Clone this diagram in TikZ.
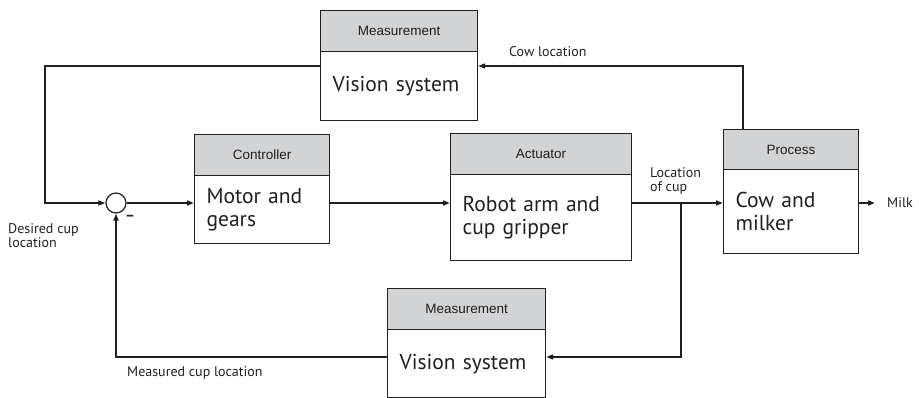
\documentclass[tikz,border=0pt]{standalone}
\usepackage{fontspec}
\setmainfont{PT Sans}
\newfontfamily\hdrfont{Liberation Sans}
\usetikzlibrary{arrows.meta,calc}
\definecolor{ink}{HTML}{231F20}
\definecolor{hdr}{HTML}{D1D3D4}
\begin{document}
\begin{tikzpicture}[x=1pt,y=-1pt,
  hdrbox/.style={draw=ink,line width=1.2,fill=hdr,anchor=north west,inner sep=0,
     font=\hdrfont\fontsize{13.5}{15}\selectfont,text=ink},
  bodybox/.style={draw=ink,line width=1.2,fill=white,anchor=north west,inner xsep=12,inner ysep=0,
     align=left,font=\fontsize{21.5}{22.5}\selectfont,text=ink},
  lbl/.style={font=\fontsize{14}{14.5}\selectfont,text=ink,inner sep=0,align=left},
  arr/.style={draw=ink,line width=1.7,-{Triangle[length=7,width=5]}},
  ln/.style={draw=ink,line width=1.7}]
\useasboundingbox (0,0) rectangle (919,398);
% coordinates for signal levels
\coordinate (yTop) at (0,66);
\coordinate (ySig) at (0,203);
\coordinate (yBot) at (0,357);
% top measurement
\node[hdrbox,minimum width=157,minimum height=41] (mth) at (320,10) {Measurement};
\node[bodybox,minimum width=157,minimum height=69,text width=133] (mt) at (320,51) {Vision system};
% controller
\node[hdrbox,minimum width=135,minimum height=41] (cth) at (194,134) {Controller};
\node[bodybox,minimum width=135,minimum height=68,text width=111] (ct) at (194,175) {Motor and\\gears};
% actuator
\node[hdrbox,minimum width=181,minimum height=41] (ach) at (450,133) {Actuator};
\node[bodybox,minimum width=181,minimum height=86,text width=157] (ac) at (450,174) {Robot arm and\\cup gripper\\[8pt]};
% process
\node[hdrbox,minimum width=135,minimum height=40] (prh) at (723,129) {Process};
\node[bodybox,minimum width=135,minimum height=84,text width=111] (pr) at (723,169) {Cow and\\milker};
% bottom measurement
\node[hdrbox,minimum width=158,minimum height=41] (mbh) at (387,288) {Measurement};
\node[bodybox,minimum width=158,minimum height=68,text width=134] (mb) at (387,329) {Vision system};
% summing junction
\node[circle,draw=ink,line width=1.2,minimum size=20,inner sep=0] (sum) at (116,203) {};
\node[font=\bfseries\fontsize{15}{15}\selectfont,text=ink,inner sep=0] (minus) at (130,218) {–};
% labels
\node[lbl,anchor=west] (desired) at (8,235.5) {Desired cup\\location};
\node[lbl,anchor=west] (measured) at (127,373) {Measured cup location};
\node[lbl,anchor=west] (cowloc) at (509,52) {Cow location};
\node[lbl,anchor=west] (loccup) at (650,181) {Location\\of cup};
\node[lbl,anchor=west] (milk) at (887,203) {Milk};
% connectors
\coordinate (cL) at (45,203);
\coordinate (br) at (681,203);
\draw[arr] (mt.west|-yTop) -| (cL) -- (sum.west);
\draw[arr] (sum.east) -- (ct.west|-ySig);
\draw[arr] (ct.east|-ySig) -- (ac.west|-ySig);
\draw[arr] (ac.east|-ySig) -- (pr.west|-ySig);
\draw[arr] ([xshift=20]prh.north west) |- (mt.east|-yTop);
\draw[arr] (br) |- (mb.east|-yBot);
\draw[arr] (mb.west|-yBot) -| (sum.south);
\draw[arr,shorten >=12] (pr.east|-ySig) -- (milk.west);
\end{tikzpicture}
\end{document}
